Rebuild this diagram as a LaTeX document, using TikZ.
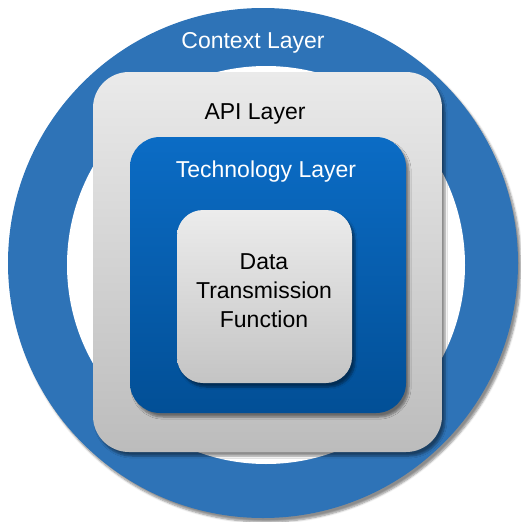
\documentclass[tikz,border=0pt]{standalone}
\usepackage{fontspec}
\setmainfont{Liberation Sans}
\usetikzlibrary{shadows.blur}
\definecolor{ringblue}{HTML}{2E73B7}
\definecolor{apitop}{HTML}{EAEAEA}
\definecolor{apibot}{HTML}{BCBCBC}
\definecolor{techtop}{HTML}{0B6CC5}
\definecolor{techbot}{HTML}{024F96}
\definecolor{datatop}{HTML}{ECECEC}
\definecolor{databot}{HTML}{C4C4C4}
\tikzset{
  shd/.style={blur shadow={shadow xshift=3pt,shadow yshift=-4pt,shadow blur steps=6,shadow opacity=45}},
  layerbox/.style={rectangle,inner sep=0pt,shd},
  lbl/.style={font=\fontsize{23}{29}\selectfont,align=center,inner sep=0pt},
}
\begin{document}
\begin{tikzpicture}[x=1pt,y=-1pt]
\useasboundingbox (0,0) rectangle (520,522);
% context ring
\node[circle,fill=ringblue,minimum size=510pt,inner sep=0pt,shd] (ctx) at (263,263) {};
\node[circle,fill=white,minimum size=398pt,inner sep=0pt] (ctxhole) at (266,265) {};
\node[lbl,text=white] (ctxlabel) at (253,43) {Context Layer};
% API layer
\node[layerbox,minimum width=349pt,minimum height=380pt,rounded corners=36pt,
      top color=apitop,bottom color=apibot] (api) at (267.5,262) {};
\node[lbl,text=black] (apilabel) at (255,114) {API Layer};
% technology layer
\node[layerbox,minimum width=276pt,minimum height=276pt,rounded corners=30pt,
      top color=techtop,bottom color=techbot] (tech) at (268,275) {};
\node[lbl,text=white] (techlabel) at (266,172) {Technology Layer};
% data transmission function
\node[layerbox,minimum width=175pt,minimum height=173pt,rounded corners=26pt,
      top color=datatop,bottom color=databot] (data) at (264.5,296.5) {};
\node[lbl,text=black] (datalabel) at (264,291) {Data\\Transmission\\Function};
\end{tikzpicture}
\end{document}
